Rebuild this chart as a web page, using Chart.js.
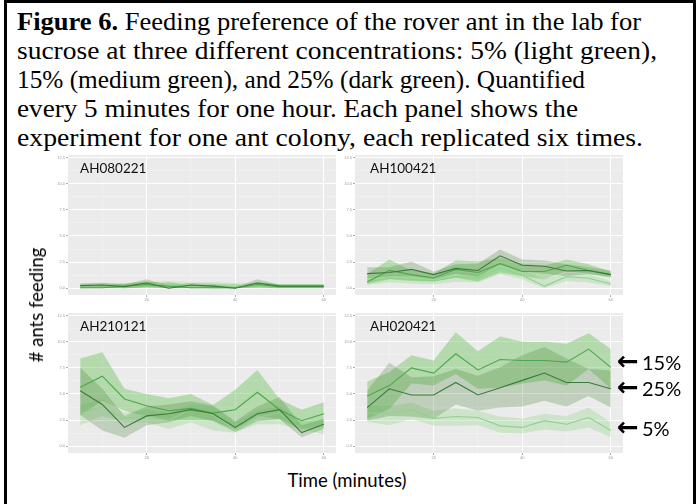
<!DOCTYPE html>
<html>
<head>
<meta charset="utf-8">
<script src="https://cdn.jsdelivr.net/npm/chart.js@4.4.0/dist/chart.umd.min.js"></script>
<style>
body { margin: 0; width: 697px; height: 504px; background: #fff; position: relative; overflow: hidden; }
#frame { position: absolute; left: 4px; top: 0; width: 686px; height: 510px; border: 3px solid #000; }
.cap { position: absolute; left: 17px; font-family: "Liberation Serif", "Times New Roman", serif; font-size: 26px; white-space: nowrap; color: #000; line-height: 29px; transform-origin: 0 0; }
.panel { position: absolute; }
.lab { position: absolute; font-family: Lato, sans-serif; font-size: 13.5px; color: #111; white-space: nowrap; z-index: 2; }
.big { position: absolute; font-family: Lato, sans-serif; font-size: 18.5px; color: #000; white-space: nowrap; z-index: 2; }
.pct { position: absolute; font-family: Lato, sans-serif; font-size: 20px; color: #000; white-space: nowrap; line-height: 24px; }
.arr { position: absolute; font-family: "DejaVu Sans", sans-serif; font-weight: bold; font-size: 26px; line-height: 26px; color: #000; }
</style>
</head>
<body>
<div id="frame"></div>
<div class="cap" style="top:7px"><b>Figure 6.</b> Feeding preference of the rover ant in the lab for</div>
<div class="cap" style="top:36px">sucrose at three different concentrations: 5% (light green),</div>
<div class="cap" style="top:65px">15% (medium green), and 25% (dark green). Quantified</div>
<div class="cap" style="top:94px">every 5 minutes for one hour. Each panel shows the</div>
<div class="cap" style="top:123px">experiment for one ant colony, each replicated six times.</div>

<canvas id="c1" class="panel"></canvas>
<canvas id="c2" class="panel"></canvas>
<canvas id="c3" class="panel"></canvas>
<canvas id="c4" class="panel"></canvas>

<div class="lab" style="left:80px;top:160px">AH080221</div>
<div class="lab" style="left:370px;top:160px">AH100421</div>
<div class="lab" style="left:80px;top:318px">AH210121</div>
<div class="lab" style="left:370px;top:318px">AH020421</div>

<div class="big" style="left:36px;top:305px;transform:translate(-50%,-50%) rotate(-90deg)"># ants feeding</div>
<div class="big" style="left:347px;top:480px;transform:translate(-50%,-50%)">Time (minutes)</div>

<div class="arr" style="left:617px;top:348px">&larr;</div>
<div class="arr" style="left:617px;top:374px">&larr;</div>
<div class="arr" style="left:617px;top:414px">&larr;</div>
<div class="pct" style="left:642px;top:350px">15%</div>
<div class="pct" style="left:642px;top:376px">25%</div>
<div class="pct" style="left:642px;top:416px">5%</div>

<script>
const minutes = [5, 10, 15, 20, 25, 30, 35, 40, 45, 50, 55, 60];
const xTicks = [10, 20, 30, 40, 50, 60];
const xLabels = [20, 40, 60];
const yTicks = [0, 1.25, 2.5, 3.75, 5, 6.25, 7.5, 8.75, 10, 11.25, 12.5];
const yLabels = [0, 2.5, 5, 7.5, 10, 12.5];

// AH080221
const ah080221_5 = [0.2, 0.3, 0.2, 0.3, 0.5, 0.2, 0.3, 0.3, 0.2, 0.2, 0.2, 0.2];
const ah080221_5_lo = [0.0, 0.05, 0.0, 0.05, 0.25, 0.0, 0.05, 0.05, 0.0, 0.0, 0.0, 0.0];
const ah080221_5_hi = [0.45, 0.55, 0.45, 0.6, 0.7, 0.55, 0.6, 0.5, 0.45, 0.4, 0.4, 0.4];
const ah080221_15 = [0.05, 0.05, 0.2, 0.35, 0.2, 0.05, 0.05, 0.05, 0.35, 0.15, 0.15, 0.15];
const ah080221_15_lo = [0, 0, 0, 0.05, 0, 0, 0, 0, 0.05, 0, 0, 0];
const ah080221_15_hi = [0.3, 0.3, 0.45, 0.65, 0.45, 0.3, 0.3, 0.2, 0.6, 0.35, 0.35, 0.35];
const ah080221_25 = [0.25, 0.3, 0.15, 0.5, 0.0, 0.3, 0.2, 0.0, 0.5, 0.2, 0.2, 0.2];
const ah080221_25_lo = [0.05, 0.1, 0, 0.15, 0, 0.1, 0, 0, 0.15, 0.05, 0.05, 0.05];
const ah080221_25_hi = [0.45, 0.5, 0.35, 0.85, 0.2, 0.5, 0.4, 0.1, 0.85, 0.35, 0.35, 0.35];

// AH100421
const ah100421_5 = [0.65, 0.95, 0.85, 0.7, 1.1, 0.95, 1.95, 1.25, 0.2, 1.1, 0.95, 0.4];
const ah100421_5_lo = [0.32, 0.54, 0.44, 0.38, 0.63, 0.54, 1.33, 0.86, 0.0, 0.7, 0.54, 0.22];
const ah100421_5_hi = [0.95, 1.33, 1.27, 1.02, 1.59, 1.33, 2.44, 1.71, 0.86, 1.49, 1.33, 0.7];
const ah100421_15 = [0.6, 1.7, 1.3, 1.0, 1.8, 1.5, 2.35, 1.6, 1.6, 2.2, 1.7, 1.3];
const ah100421_15_lo = [0.4, 0.85, 0.7, 0.65, 1.0, 0.65, 1.5, 1.15, 0.85, 1.65, 1.35, 1.0];
const ah100421_15_hi = [1.35, 2.75, 1.7, 1.4, 2.65, 2.55, 2.9, 2.35, 2.15, 2.75, 2.3, 1.6];
const ah100421_25 = [1.4, 1.5, 1.8, 1.3, 1.9, 1.7, 3.1, 2.2, 2.1, 1.65, 1.7, 1.3];
const ah100421_25_lo = [0.95, 1.15, 1.15, 0.85, 1.4, 1.1, 2.3, 1.6, 1.4, 1.15, 1.35, 1.1];
const ah100421_25_hi = [2.0, 2.0, 2.55, 1.6, 2.3, 2.35, 3.7, 2.75, 2.65, 2.3, 2.0, 1.7];

// AH210121
const ah210121_5 = [3.1, 3.8, 2.6, 2.9, 2.45, 3.55, 3.0, 1.6, 2.75, 3.2, 1.6, 1.9];
const ah210121_5_lo = [2.0, 2.9, 2.3, 2.3, 1.65, 2.3, 1.5, 1.3, 2.1, 2.1, 1.6, 1.15];
const ah210121_5_hi = [3.9, 4.5, 3.2, 3.5, 3.2, 4.0, 3.8, 2.3, 3.4, 3.9, 2.3, 2.6];
const ah210121_15 = [5.64, 6.7, 4.52, 3.88, 3.4, 3.62, 3.17, 3.49, 5.16, 3.49, 2.44, 3.11];
const ah210121_15_lo = [2.95, 4.35, 3.4, 2.85, 2.45, 2.5, 2.45, 1.6, 2.9, 2.6, 1.6, 2.0];
const ah210121_15_hi = [8.4, 9.0, 5.5, 5.0, 4.6, 5.0, 3.95, 5.4, 7.3, 4.5, 3.5, 4.2];
const ah210121_25 = [5.3, 4.0, 1.8, 2.9, 3.1, 3.5, 3.1, 1.8, 3.1, 3.5, 1.3, 2.1];
const ah210121_25_lo = [3.0, 1.5, 0.8, 2.0, 2.3, 2.9, 2.4, 1.35, 2.4, 2.6, 0.85, 1.65];
const ah210121_25_hi = [7.5, 5.5, 2.9, 3.8, 4.0, 4.3, 3.9, 2.4, 3.8, 4.7, 2.0, 2.6];

// AH020421
const ah020421_5 = [3.15, 3.15, 3.5, 2.65, 2.85, 2.75, 1.95, 1.8, 2.45, 2.1, 2.75, 1.5];
const ah020421_5_lo = [2.35, 2.0, 2.6, 1.95, 1.95, 2.0, 1.3, 1.25, 1.6, 1.4, 1.8, 0.85];
const ah020421_5_hi = [3.9, 3.85, 4.15, 3.4, 3.6, 3.4, 2.85, 2.65, 3.1, 2.9, 3.7, 2.3];
const ah020421_15 = [4.8, 5.8, 7.5, 7.0, 8.85, 7.3, 8.3, 8.2, 8.2, 8.05, 9.3, 7.55];
const ah020421_15_lo = [2.6, 3.55, 6.0, 5.8, 6.9, 5.5, 5.6, 6.0, 6.3, 5.8, 7.4, 5.5];
const ah020421_15_hi = [6.2, 7.1, 8.7, 8.2, 10.9, 9.1, 10.5, 10.0, 10.0, 9.8, 10.8, 9.3];
const ah020421_25 = [3.7, 5.5, 4.9, 4.9, 6.1, 4.9, 5.6, 6.3, 7.0, 6.1, 6.1, 5.5];
const ah020421_25_lo = [2.45, 2.9, 2.85, 2.6, 4.0, 3.4, 3.7, 3.8, 4.35, 3.8, 4.8, 3.7];
const ah020421_25_hi = [5.3, 8.0, 6.6, 6.7, 7.4, 6.75, 7.55, 8.7, 9.5, 8.4, 7.4, 7.25];

const colors = {
    c5: { line: '#8fd18c', band: 'rgba(150, 215, 140, 0.35)' },
    c15: { line: '#4aa84a', band: 'rgba(110, 195, 95, 0.45)' },
    c25: { line: '#3c7a3c', band: 'rgba(80, 135, 65, 0.28)' }
};

// caption lines are stretched a little so each ends where it does in the figure
const captionEnds = [641, 657, 585, 578, 643];
document.querySelectorAll('.cap').forEach((el, i) => {
    const w = el.getBoundingClientRect().width;
    el.style.transform = `scaleX(${(captionEnds[i] - 17) / w})`;
});

// ggplot-like grey panel background
const panelBg = {
    id: 'panelBg',
    beforeDraw(chart) {
        const a = chart.chartArea;
        const ctx = chart.ctx;
        ctx.save();
        ctx.fillStyle = '#ebebeb';
        ctx.fillRect(a.left, a.top, a.right - a.left, a.bottom - a.top);
        ctx.restore();
    }
};

function toPoints(arr) {
    return arr.map((v, i) => ({ x: minutes[i], y: v }));
}

function seriesSets(mean, lo, hi, col) {
    return [
        { data: toPoints(lo), borderWidth: 0, pointRadius: 0, fill: false, tension: 0 },
        { data: toPoints(hi), borderWidth: 0, pointRadius: 0, fill: '-1', backgroundColor: col.band, tension: 0 },
        { data: toPoints(mean), borderWidth: 1.1, borderColor: col.line, pointRadius: 0, fill: false, tension: 0 }
    ];
}

function makePanel(id, left, top, s5, s15, s25) {
    const plotW = 268, plotH = 140;
    const axisW = 28, axisH = 15, padTop = 5, padRight = 4;
    const canvas = document.getElementById(id);
    canvas.width = plotW + axisW + padRight;
    canvas.height = plotH + axisH + padTop;
    canvas.style.left = (left - axisW) + 'px';
    canvas.style.top = (top - padTop) + 'px';
    canvas.style.width = canvas.width + 'px';
    canvas.style.height = canvas.height + 'px';

    const datasets = [
        ...seriesSets(s25[0], s25[1], s25[2], colors.c25),
        ...seriesSets(s15[0], s15[1], s15[2], colors.c15),
        ...seriesSets(s5[0], s5[1], s5[2], colors.c5)
    ];

    new Chart(canvas.getContext('2d'), {
        type: 'line',
        data: { datasets: datasets },
        options: {
            responsive: false,
            animation: false,
            layout: { padding: { top: padTop, right: padRight, left: 0, bottom: 0 } },
            plugins: {
                legend: { display: false },
                tooltip: { enabled: false },
                filler: { drawTime: 'beforeDatasetsDraw' }
            },
            scales: {
                x: {
                    type: 'linear',
                    min: 2.25,
                    max: 62.75,
                    afterBuildTicks: scale => { scale.ticks = xTicks.map(v => ({ value: v })); },
                    afterFit: scale => { scale.height = axisH; },
                    border: { display: false },
                    grid: {
                        color: ctx => xLabels.includes(ctx.tick.value) ? '#ffffff' : '#f4f4f4',
                        lineWidth: ctx => xLabels.includes(ctx.tick.value) ? 1 : 0.6,
                        tickColor: ctx => xLabels.includes(ctx.tick.value) ? '#aaaaaa' : 'rgba(0,0,0,0)',
                        tickLength: 2
                    },
                    ticks: {
                        autoSkip: false,
                        maxRotation: 0,
                        padding: 0,
                        color: '#999999',
                        font: { size: 4 },
                        callback: v => xLabels.includes(v) ? String(v) : ''
                    }
                },
                y: {
                    type: 'linear',
                    min: -0.65,
                    max: 12.75,
                    afterBuildTicks: scale => { scale.ticks = yTicks.map(v => ({ value: v })); },
                    afterFit: scale => { scale.width = axisW; },
                    border: { display: false },
                    grid: {
                        color: ctx => yLabels.includes(ctx.tick.value) ? '#ffffff' : '#f4f4f4',
                        lineWidth: ctx => yLabels.includes(ctx.tick.value) ? 1 : 0.6,
                        tickColor: ctx => yLabels.includes(ctx.tick.value) ? '#aaaaaa' : 'rgba(0,0,0,0)',
                        tickLength: 2
                    },
                    ticks: {
                        autoSkip: false,
                        padding: 1,
                        color: '#999999',
                        font: { size: 4 },
                        callback: v => yLabels.includes(v) ? v.toFixed(1) : ''
                    }
                }
            }
        },
        plugins: [panelBg]
    });
}

makePanel('c1', 68, 155,
    [ah080221_5, ah080221_5_lo, ah080221_5_hi],
    [ah080221_15, ah080221_15_lo, ah080221_15_hi],
    [ah080221_25, ah080221_25_lo, ah080221_25_hi]);
makePanel('c2', 355, 155,
    [ah100421_5, ah100421_5_lo, ah100421_5_hi],
    [ah100421_15, ah100421_15_lo, ah100421_15_hi],
    [ah100421_25, ah100421_25_lo, ah100421_25_hi]);
makePanel('c3', 68, 313,
    [ah210121_5, ah210121_5_lo, ah210121_5_hi],
    [ah210121_15, ah210121_15_lo, ah210121_15_hi],
    [ah210121_25, ah210121_25_lo, ah210121_25_hi]);
makePanel('c4', 355, 313,
    [ah020421_5, ah020421_5_lo, ah020421_5_hi],
    [ah020421_15, ah020421_15_lo, ah020421_15_hi],
    [ah020421_25, ah020421_25_lo, ah020421_25_hi]);
</script>
</body>
</html>
